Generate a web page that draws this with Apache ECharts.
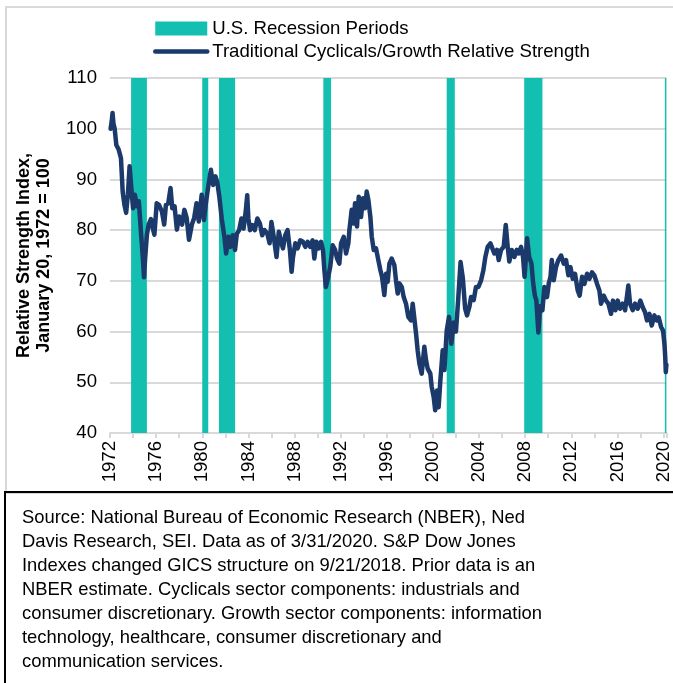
<!DOCTYPE html>
<html>
<head>
<meta charset="utf-8">
<script src="https://cdn.jsdelivr.net/npm/echarts@6/dist/echarts.min.js"></script>
<style>
  html, body { margin: 0; padding: 0; background: #fff; }
  #chart { width: 673px; height: 683px; }
</style>
</head>
<body>
<div id="chart"></div>
<script>
// Decimal-year dates and relative strength values
const dates = [
  1972.05,1972.15,1972.22,1972.3,1972.4,1972.55,1972.75,1972.95,1973.1,1973.25,1973.4,1973.55,1973.7,1973.85,
  1974.0,1974.15,1974.35,1974.5,1974.6,1974.7,1974.85,1974.95,1975.05,1975.2,1975.35,1975.55,1975.7,1975.85,
  1976.05,1976.25,1976.5,1976.7,1976.85,1977.05,1977.25,1977.4,1977.6,1977.8,1978.0,1978.25,1978.45,1978.65,1978.85,
  1979.1,1979.3,1979.5,1979.7,1979.95,1980.15,1980.3,1980.5,1980.75,1980.95,1981.15,1981.3,1981.48,1981.69,1981.92,
  1982.07,1982.27,1982.44,1982.64,1982.84,1983.0,1983.2,1983.4,1983.58,1983.78,1983.9,1984.0,1984.15,1984.35,1984.55,1984.78,
  1985.0,1985.2,1985.4,1985.64,1985.84,1986.0,1986.2,1986.44,1986.64,1986.84,1987.0,1987.2,1987.4,1987.6,1987.75,1987.87,
  1988.07,1988.27,1988.5,1988.74,1988.94,1989.14,1989.37,1989.57,1989.72,1989.9,1990.1,1990.3,1990.47,1990.59,1990.72,1990.9,
  1991.1,1991.31,1991.52,1991.69,1991.89,1992.04,1992.27,1992.47,1992.67,1992.76,1992.96,1993.13,1993.25,1993.42,1993.57,1993.77,1993.94,
  1994.12,1994.26,1994.41,1994.58,1994.7,1994.87,1995.07,1995.27,1995.45,1995.59,1995.79,1995.94,1996.08,1996.23,1996.43,1996.66,1996.8,1996.95,
  1997.09,1997.3,1997.47,1997.67,1997.87,1998.1,1998.25,1998.39,1998.54,1998.68,1998.83,1999.03,1999.26,1999.41,1999.55,1999.78,1999.9,
  2000.07,2000.2,2000.36,2000.5,2000.65,2000.85,2001.0,2001.2,2001.4,2001.6,2001.8,2002.0,2002.2,2002.4,2002.6,2002.8,2002.96,
  2003.17,2003.31,2003.54,2003.74,2003.95,2004.18,2004.38,2004.55,2004.75,2004.99,2005.16,2005.33,2005.56,2005.71,2005.91,
  2006.14,2006.32,2006.49,2006.63,2006.84,2007.07,2007.27,2007.44,2007.65,2007.82,2007.95,2008.05,2008.17,2008.35,2008.55,2008.7,2008.85,2008.97,
  2009.15,2009.3,2009.5,2009.67,2009.9,2010.05,2010.2,2010.31,2010.48,2010.68,2010.88,2011.12,2011.35,2011.55,2011.75,2011.93,
  2012.13,2012.33,2012.56,2012.73,2012.94,2013.14,2013.37,2013.57,2013.8,2014.0,2014.24,2014.44,2014.58,2014.82,
  2015.02,2015.22,2015.45,2015.62,2015.83,2016.03,2016.23,2016.46,2016.67,2016.84,2016.95,2017.1,2017.33,2017.53,2017.76,2017.99,
  2018.2,2018.4,2018.57,2018.78,2018.98,2019.21,2019.41,2019.58,2019.79,2019.96,2020.08,2020.15,2020.2,2020.25
];
const strength = [
  100,101.5,103.1,101,100.1,96.8,95.9,94.2,87.6,85,83.4,87,92.6,88.3,
  84.3,87,84.7,85.7,82.4,79.1,74.5,70.7,74.5,79.1,81.1,82.2,80.5,79.1,
  85.3,85,83.7,81.1,85,85.3,88.3,84.3,84.7,80.1,82.7,81.1,84,82.4,78.1,
  81.1,82.4,85.3,81.7,87,82,85,88.3,91.9,88.9,90.6,89.5,86.6,82.3,78.7,
  75.4,78.7,76.7,79,76.1,79.3,80,82.3,80.3,83.9,86.9,82.3,80,81,80,82.3,
  81.3,79,80,79.3,77.4,81.6,78.7,74.7,79.7,77.7,76.4,79,80,76.1,71.8,74.7,
  77.4,76.4,78,77.7,76.7,77.7,76.7,78,74.4,77.7,76.4,77.7,76.1,72.1,68.8,70.5,
  72.8,77,76.1,74.4,73.4,77.4,78.7,75.4,77.4,80,84,81.3,85.3,80.7,86.6,82.6,86.3,
  84.3,87.6,85.9,82.6,78.7,76.1,76.4,74.1,72.1,70.8,67.2,71.4,69.8,73.4,74.4,73.1,70.1,67.5,
  69.5,68.8,66.8,65.5,62.9,62.2,65.5,65.2,59.6,56.3,53.7,51.7,57,54.3,52.7,51.7,49.1,
  47.1,44.5,48.4,45.1,50.4,56.3,52.4,60.2,62.9,57.6,61.8,60,66.5,73.7,70.5,64.5,63.2,
  64.9,66.8,66.2,68.8,68.8,70.1,72.1,74.7,76.7,77.4,77.7,75.4,76.1,74.1,76.1,
  76.7,81,76.7,73.8,76.1,74.7,76.1,75.4,76.7,74.7,70.8,74.1,78.4,74.7,73.4,69.5,67,66.2,
  59.8,65,64.2,68.8,66.8,69.5,70.8,74.1,70.1,72.7,74.1,75,73.4,74.1,71.1,72.7,
  70.4,71.4,68.1,67.1,70.8,69.4,71.4,70.4,71.7,71.1,69.4,68.1,65.5,67.1,
  66.1,65.5,63.5,66.1,64.2,66.1,64.5,65.5,64.2,67.1,69.1,65.5,64.2,65.5,64.5,66.1,
  64.8,63.8,62.2,63.5,61.2,63.2,62.2,62.8,60.9,60.2,57.6,55,52,53.5
];
// NBER recession periods (decimal years)
const recessionStart = [1973.83, 1980.0, 1981.45, 1990.5, 2001.2, 2007.92, 2020.12];
const recessionEnd   = [1975.2, 1980.52, 1982.85, 1991.17, 2001.9, 2009.5, 2020.25];

const yTicks = { min: 40, max: 110, step: 10 };
const xTicks = { min: 1972, max: 2020.25, step: 2, labelEvery: 4 };

const seriesNames = ['U.S. Recession Periods', 'Traditional Cyclicals/Growth Relative Strength'];
const yTitle = 'Relative Strength Index,\nJanuary 20, 1972 = 100';
const footnote = [
  'Source: National Bureau of Economic Research (NBER), Ned',
  'Davis Research, SEI. Data as of 3/31/2020. S&P Dow Jones',
  'Indexes changed GICS structure on 9/21/2018. Prior data is an',
  'NBER estimate. Cyclicals sector components: industrials and',
  'consumer discretionary. Growth sector components: information',
  'technology, healthcare, consumer discretionary and',
  'communication services.'
];

const TEAL = '#13BFB1';
const NAVY = '#1B3A6B';
const GRID = '#D9D9D9';
const FONT = '"Liberation Sans", Arial, sans-serif';
const FS = 18.6;

const lineData = dates.map((d, i) => [d, strength[i]]);
const areas = recessionStart.map((s, i) => [{ xAxis: s }, { xAxis: recessionEnd[i] }]);

const chart = echarts.init(document.getElementById('chart'), null, { renderer: 'canvas' });
chart.setOption({
  animation: false,
  backgroundColor: '#fff',
  textStyle: { fontFamily: FONT, color: '#000' },
  grid: { left: 110, right: 5, top: 78, bottom: 250, containLabel: false },
  legend: {
    orient: 'vertical',
    left: 153,
    top: 19,
    padding: 0,
    itemWidth: 52,
    itemHeight: 14,
    itemGap: 4,
    textStyle: { fontSize: FS, color: '#000', fontFamily: FONT, padding: [0, 0, 0, 0] },
    data: [
      { name: seriesNames[0], icon: 'rect' },
      { name: seriesNames[1], itemStyle: { opacity: 0 }, lineStyle: { width: 4.5, cap: 'round', color: NAVY } }
    ]
  },
  xAxis: {
    type: 'value',
    min: xTicks.min,
    max: xTicks.max,
    interval: xTicks.step,
    axisLine: { show: true, lineStyle: { color: GRID, width: 2 } },
    axisTick: { show: true, length: 5, lineStyle: { color: GRID, width: 2 } },
    splitLine: { show: false },
    axisLabel: {
      rotate: 90,
      fontSize: FS,
      color: '#000',
      fontFamily: FONT,
      margin: 8,
      formatter: v => (Math.abs(v % xTicks.labelEvery) < 1e-6 ? String(Math.round(v)) : '')
    }
  },
  yAxis: {
    type: 'value',
    min: yTicks.min,
    max: yTicks.max,
    interval: yTicks.step,
    axisLine: { show: false },
    axisTick: { show: false },
    splitLine: { show: true, lineStyle: { color: GRID, width: 2 } },
    axisLabel: { fontSize: FS, color: '#000', fontFamily: FONT, margin: 13 },
    name: yTitle,
    nameLocation: 'middle',
    nameGap: 56,
    nameTextStyle: { fontSize: 18, fontWeight: 'bold', color: '#000', fontFamily: FONT, lineHeight: 20, align: 'center' }
  },
  series: [
    {
      name: seriesNames[0],
      type: 'bar',
      data: [],
      itemStyle: { color: TEAL }
    },
    {
      name: seriesNames[1],
      type: 'line',
      data: lineData,
      symbol: 'none',
      smooth: false,
      lineStyle: { color: NAVY, width: 4.5, join: 'round', cap: 'round' },
      itemStyle: { color: NAVY },
      z: 5,
      markArea: {
        silent: true,
        itemStyle: { color: TEAL, opacity: 1 },
        data: areas
      }
    }
  ],
  graphic: [
    {
      type: 'rect',
      shape: { x: 6, y: 7, width: 700, height: 486 },
      style: { fill: null, stroke: GRID, lineWidth: 2 },
      silent: true, z: -1
    },
    {
      type: 'rect',
      shape: { x: 5, y: 492, width: 700, height: 200 },
      style: { fill: null, stroke: '#000', lineWidth: 2 },
      silent: true
    },
    {
      type: 'text',
      left: 22,
      top: 506,
      style: {
        text: footnote.join('\n'),
        font: '18.4px ' + FONT,
        fill: '#000',
        lineHeight: 24
      },
      silent: true
    }
  ]
});
</script>
</body>
</html>
